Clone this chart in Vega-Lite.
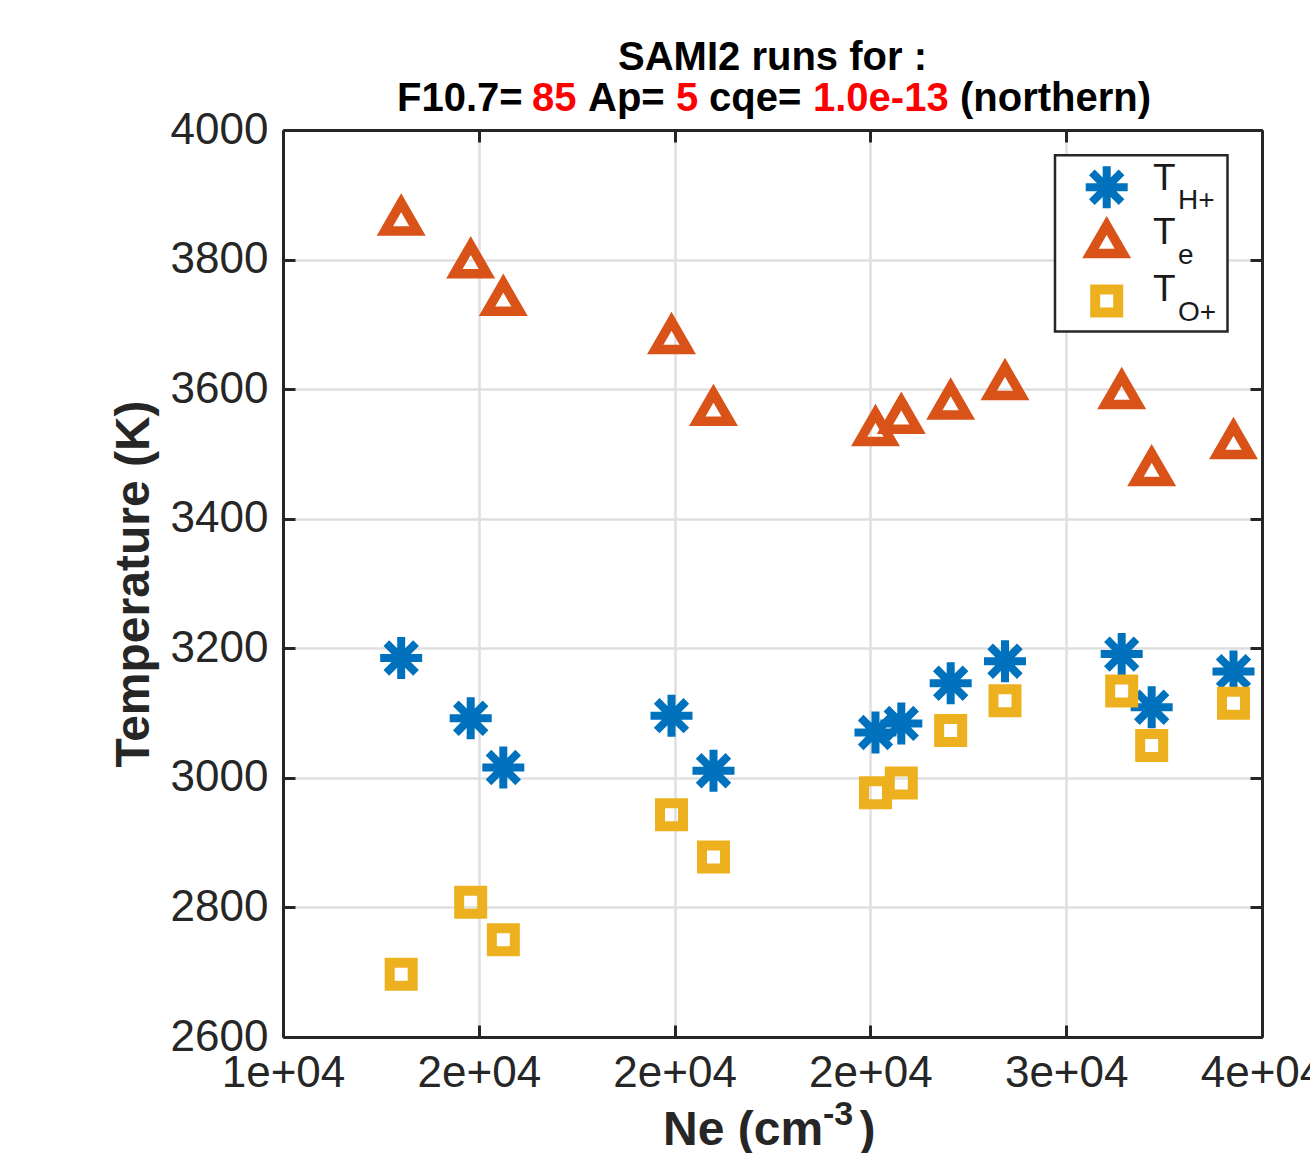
{
  "$schema": "https://vega.github.io/schema/vega-lite/v6.json",
  "width": 979,
  "height": 907,
  "autosize": {"type": "none"},
  "padding": {"left": 283, "top": 130, "right": 48, "bottom": 116},
  "background": "white",
  "config": {"view": {"stroke": null}, "font": "Liberation Sans"},
  "data": {
    "values": [
      {"ne": 13018, "species": "TH+", "temp": 3185},
      {"ne": 14793, "species": "TH+", "temp": 3092},
      {"ne": 15626, "species": "TH+", "temp": 3016},
      {"ne": 19921, "species": "TH+", "temp": 3096},
      {"ne": 20993, "species": "TH+", "temp": 3011},
      {"ne": 25130, "species": "TH+", "temp": 3070},
      {"ne": 25789, "species": "TH+", "temp": 3084},
      {"ne": 27050, "species": "TH+", "temp": 3146},
      {"ne": 28437, "species": "TH+", "temp": 3180},
      {"ne": 31417, "species": "TH+", "temp": 3191},
      {"ne": 32183, "species": "TH+", "temp": 3109},
      {"ne": 34272, "species": "TH+", "temp": 3164},
      {"ne": 13018, "species": "Te", "temp": 3866},
      {"ne": 14793, "species": "Te", "temp": 3800},
      {"ne": 15626, "species": "Te", "temp": 3742},
      {"ne": 19921, "species": "Te", "temp": 3683},
      {"ne": 20993, "species": "Te", "temp": 3572},
      {"ne": 25130, "species": "Te", "temp": 3541},
      {"ne": 25789, "species": "Te", "temp": 3560},
      {"ne": 27050, "species": "Te", "temp": 3582},
      {"ne": 28437, "species": "Te", "temp": 3612},
      {"ne": 31417, "species": "Te", "temp": 3598},
      {"ne": 32183, "species": "Te", "temp": 3479},
      {"ne": 34272, "species": "Te", "temp": 3521},
      {"ne": 13018, "species": "TO+", "temp": 2697},
      {"ne": 14793, "species": "TO+", "temp": 2808},
      {"ne": 15626, "species": "TO+", "temp": 2750},
      {"ne": 19921, "species": "TO+", "temp": 2943},
      {"ne": 20993, "species": "TO+", "temp": 2878},
      {"ne": 25130, "species": "TO+", "temp": 2977},
      {"ne": 25789, "species": "TO+", "temp": 2992},
      {"ne": 27050, "species": "TO+", "temp": 3073},
      {"ne": 28437, "species": "TO+", "temp": 3119},
      {"ne": 31417, "species": "TO+", "temp": 3134},
      {"ne": 32183, "species": "TO+", "temp": 3050},
      {"ne": 34272, "species": "TO+", "temp": 3115}
    ]
  },
  "resolve": {"axis": {"x": "independent", "y": "independent"}},
  "layer": [
    {
      "transform": [{"filter": "datum.species === 'TH+'"}],
      "mark": {"type": "point", "shape": "M-1,0L1,0M0,-1L0,1M-0.7071,-0.7071L0.7071,0.7071M-0.7071,0.7071L0.7071,-0.7071", "filled": false, "size": 1764, "strokeWidth": 8, "opacity": 1},
      "encoding": {
        "x": {
          "field": "ne", "type": "quantitative",
          "scale": {"domain": [10000, 35000], "nice": false, "zero": false},
          "axis": {
            "orient": "bottom",
            "values": [10000, 15000, 20000, 25000, 30000, 35000],
            "labelExpr": "datum.value == 10000 ? '1e+04' : datum.value <= 25000 ? '2e+04' : datum.value == 30000 ? '3e+04' : '4e+04'",
            "labelFlush": false, "labelOverlap": false, "labelBound": false,
            "labelFontSize": 44, "labelColor": "#262626", "labelPadding": 26,
            "title": null,
            "tickSize": -12, "tickWidth": 3, "tickColor": "#262626",
            "domainColor": "#262626", "domainWidth": 3,
            "grid": true, "gridColor": "#dfdfdf", "gridWidth": 2.5
          }
        },
        "y": {
          "field": "temp", "type": "quantitative",
          "scale": {"domain": [2600, 4000], "nice": false, "zero": false},
          "axis": {
            "orient": "left",
            "values": [2600, 2800, 3000, 3200, 3400, 3600, 3800, 4000],
            "format": "d",
            "labelFlush": false, "labelOverlap": false, "labelBound": false,
            "labelFontSize": 44, "labelColor": "#262626", "labelPadding": 27,
            "title": "Temperature (K)", "titleFontSize": 48, "titleFontWeight": "bold", "titleColor": "#262626", "titlePadding": 12,
            "tickSize": -12, "tickWidth": 3, "tickColor": "#262626",
            "domainColor": "#262626", "domainWidth": 3,
            "grid": true, "gridColor": "#dfdfdf", "gridWidth": 2.5
          }
        },
        "color": {"field": "species", "type": "nominal", "scale": {"domain": ["TH+", "Te", "TO+"], "range": ["#0072BD", "#D95319", "#EDB120"]}, "legend": null}
      }
    },
    {
      "transform": [{"filter": "datum.species === 'Te'"}],
      "mark": {"type": "point", "shape": "triangle-up", "filled": false, "size": 1056, "strokeWidth": 9.5, "opacity": 1},
      "encoding": {
        "x": {"field": "ne", "type": "quantitative", "axis": null},
        "y": {"field": "temp", "type": "quantitative", "axis": null},
        "color": {"field": "species", "type": "nominal", "legend": null}
      }
    },
    {
      "transform": [{"filter": "datum.species === 'TO+'"}],
      "mark": {"type": "point", "shape": "square", "filled": false, "size": 529, "strokeWidth": 10, "opacity": 1},
      "encoding": {
        "x": {"field": "ne", "type": "quantitative", "axis": null},
        "y": {"field": "temp", "type": "quantitative", "axis": null},
        "color": {"field": "species", "type": "nominal", "legend": null}
      }
    },
    {
      "data": {"values": [{}]},
      "mark": {"type": "rect", "fill": "white", "stroke": "#262626", "strokeWidth": 2.5},
      "encoding": {
        "x": {
          "datum": 29714, "type": "quantitative",
          "axis": {
            "orient": "top", "values": [10000, 15000, 20000, 25000, 30000, 35000],
            "labels": false, "title": null, "grid": false,
            "tickSize": -12, "tickWidth": 3, "tickColor": "#262626",
            "domainColor": "#262626", "domainWidth": 3
          }
        },
        "x2": {"datum": 34119},
        "y": {
          "datum": 3961, "type": "quantitative",
          "axis": {
            "orient": "right", "values": [2600, 2800, 3000, 3200, 3400, 3600, 3800, 4000],
            "labels": false, "title": null, "grid": false,
            "tickSize": -12, "tickWidth": 3, "tickColor": "#262626",
            "domainColor": "#262626", "domainWidth": 3
          }
        },
        "y2": {"datum": 3689}
      }
    },
    {
      "data": {"values": [{}]},
      "mark": {"type": "point", "shape": "M-1,0L1,0M0,-1L0,1M-0.7071,-0.7071L0.7071,0.7071M-0.7071,0.7071L0.7071,-0.7071", "filled": false, "size": 1764, "strokeWidth": 8, "opacity": 1, "color": "#0072BD"},
      "encoding": {
        "x": {"datum": 31034, "type": "quantitative", "axis": null},
        "y": {"datum": 3911.6, "type": "quantitative", "axis": null}
      }
    },
    {
      "data": {"values": [{}]},
      "mark": {"type": "point", "shape": "triangle-up", "filled": false, "size": 1056, "strokeWidth": 9.5, "opacity": 1, "color": "#D95319"},
      "encoding": {
        "x": {"datum": 31034, "type": "quantitative", "axis": null},
        "y": {"datum": 3831, "type": "quantitative", "axis": null}
      }
    },
    {
      "data": {"values": [{}]},
      "mark": {"type": "point", "shape": "square", "filled": false, "size": 529, "strokeWidth": 10, "opacity": 1, "color": "#EDB120"},
      "encoding": {
        "x": {"datum": 31034, "type": "quantitative", "axis": null},
        "y": {"datum": 3736, "type": "quantitative", "axis": null}
      }
    },
    {
      "data": {"values": [{}]},
      "mark": {"type": "text", "text": "T", "fontSize": 37, "align": "left", "baseline": "alphabetic", "color": "#1a1a1a"},
      "encoding": {
        "x": {"datum": 32216, "type": "quantitative", "axis": null},
        "y": {"datum": 3907.4, "type": "quantitative", "axis": null}
      }
    },
    {
      "data": {"values": [{}]},
      "mark": {"type": "text", "text": "H+", "fontSize": 28, "align": "left", "baseline": "alphabetic", "color": "#1a1a1a"},
      "encoding": {
        "x": {"datum": 32855, "type": "quantitative", "axis": null},
        "y": {"datum": 3877.6, "type": "quantitative", "axis": null}
      }
    },
    {
      "data": {"values": [{}]},
      "mark": {"type": "text", "text": "T", "fontSize": 37, "align": "left", "baseline": "alphabetic", "color": "#1a1a1a"},
      "encoding": {
        "x": {"datum": 32216, "type": "quantitative", "axis": null},
        "y": {"datum": 3824.1, "type": "quantitative", "axis": null}
      }
    },
    {
      "data": {"values": [{}]},
      "mark": {"type": "text", "text": "e", "fontSize": 28, "align": "left", "baseline": "alphabetic", "color": "#1a1a1a"},
      "encoding": {
        "x": {"datum": 32855, "type": "quantitative", "axis": null},
        "y": {"datum": 3793.2, "type": "quantitative", "axis": null}
      }
    },
    {
      "data": {"values": [{}]},
      "mark": {"type": "text", "text": "T", "fontSize": 37, "align": "left", "baseline": "alphabetic", "color": "#1a1a1a"},
      "encoding": {
        "x": {"datum": 32216, "type": "quantitative", "axis": null},
        "y": {"datum": 3736.1, "type": "quantitative", "axis": null}
      }
    },
    {
      "data": {"values": [{}]},
      "mark": {"type": "text", "text": "O+", "fontSize": 28, "align": "left", "baseline": "alphabetic", "color": "#1a1a1a"},
      "encoding": {
        "x": {"datum": 32855, "type": "quantitative", "axis": null},
        "y": {"datum": 3705.3, "type": "quantitative", "axis": null}
      }
    },
    {
      "data": {"values": [{}]},
      "mark": {"type": "text", "text": "SAMI2 runs for :", "fontSize": 40, "fontWeight": "bold", "align": "center", "baseline": "alphabetic", "color": "#000000"},
      "encoding": {
        "x": {"datum": 22500, "type": "quantitative", "axis": null},
        "y": {"datum": 4093, "type": "quantitative", "axis": null}
      }
    },
    {
      "data": {"values": [{}]},
      "mark": {"type": "text", "text": "F10.7=", "fontSize": 40, "fontWeight": "bold", "align": "left", "baseline": "alphabetic", "color": "#000000"},
      "encoding": {
        "x": {"datum": 12911, "type": "quantitative", "axis": null},
        "y": {"datum": 4029.3, "type": "quantitative", "axis": null}
      }
    },
    {
      "data": {"values": [{}]},
      "mark": {"type": "text", "text": "85", "fontSize": 40, "fontWeight": "bold", "align": "left", "baseline": "alphabetic", "color": "#FF0000"},
      "encoding": {
        "x": {"datum": 16358, "type": "quantitative", "axis": null},
        "y": {"datum": 4029.3, "type": "quantitative", "axis": null}
      }
    },
    {
      "data": {"values": [{}]},
      "mark": {"type": "text", "text": "Ap=", "fontSize": 40, "fontWeight": "bold", "align": "left", "baseline": "alphabetic", "color": "#000000"},
      "encoding": {
        "x": {"datum": 17789, "type": "quantitative", "axis": null},
        "y": {"datum": 4029.3, "type": "quantitative", "axis": null}
      }
    },
    {
      "data": {"values": [{}]},
      "mark": {"type": "text", "text": "5", "fontSize": 40, "fontWeight": "bold", "align": "left", "baseline": "alphabetic", "color": "#FF0000"},
      "encoding": {
        "x": {"datum": 20036, "type": "quantitative", "axis": null},
        "y": {"datum": 4029.3, "type": "quantitative", "axis": null}
      }
    },
    {
      "data": {"values": [{}]},
      "mark": {"type": "text", "text": "cqe=", "fontSize": 40, "fontWeight": "bold", "align": "left", "baseline": "alphabetic", "color": "#000000"},
      "encoding": {
        "x": {"datum": 20878, "type": "quantitative", "axis": null},
        "y": {"datum": 4029.3, "type": "quantitative", "axis": null}
      }
    },
    {
      "data": {"values": [{}]},
      "mark": {"type": "text", "text": "1.0e-13", "fontSize": 40, "fontWeight": "bold", "align": "left", "baseline": "alphabetic", "color": "#FF0000"},
      "encoding": {
        "x": {"datum": 23534, "type": "quantitative", "axis": null},
        "y": {"datum": 4029.3, "type": "quantitative", "axis": null}
      }
    },
    {
      "data": {"values": [{}]},
      "mark": {"type": "text", "text": "(northern)", "fontSize": 40, "fontWeight": "bold", "align": "left", "baseline": "alphabetic", "color": "#000000"},
      "encoding": {
        "x": {"datum": 27288, "type": "quantitative", "axis": null},
        "y": {"datum": 4029.3, "type": "quantitative", "axis": null}
      }
    },
    {
      "data": {"values": [{}]},
      "mark": {"type": "text", "text": "Ne (cm", "fontSize": 48, "fontWeight": "bold", "align": "left", "baseline": "alphabetic", "color": "#262626"},
      "encoding": {
        "x": {"datum": 19704, "type": "quantitative", "axis": null},
        "y": {"datum": 2433.6, "type": "quantitative", "axis": null}
      }
    },
    {
      "data": {"values": [{}]},
      "mark": {"type": "text", "text": "-3", "fontSize": 34, "fontWeight": "bold", "align": "left", "baseline": "alphabetic", "color": "#262626"},
      "encoding": {
        "x": {"datum": 23790, "type": "quantitative", "axis": null},
        "y": {"datum": 2464.5, "type": "quantitative", "axis": null}
      }
    },
    {
      "data": {"values": [{}]},
      "mark": {"type": "text", "text": ")", "fontSize": 48, "fontWeight": "bold", "align": "left", "baseline": "alphabetic", "color": "#262626"},
      "encoding": {
        "x": {"datum": 24720, "type": "quantitative", "axis": null},
        "y": {"datum": 2433.6, "type": "quantitative", "axis": null}
      }
    }
  ]
}
